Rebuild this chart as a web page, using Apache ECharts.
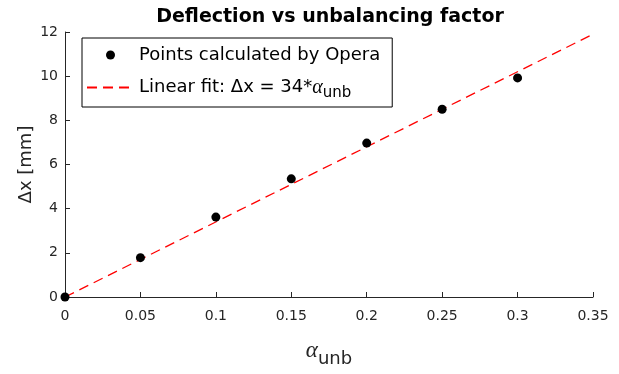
<!DOCTYPE html>
<html>
<head>
<meta charset="utf-8">
<script src="https://cdn.jsdelivr.net/npm/echarts@6/dist/echarts.min.js"></script>
<style>
  html, body { margin: 0; padding: 0; background: #fff; }
  #chart { width: 619px; height: 374px; }
</style>
</head>
<body>
<div id="chart"></div>
<script>
// points from Opera
const alphaVals = [0, 0.05, 0.1, 0.15, 0.2, 0.25, 0.3]
const deltaX = [0, 1.78, 3.62, 5.35, 6.97, 8.5, 9.92]
// linear fit dx = 34*alpha, end points
const fitX = [0, 0.35]
const fitY = [0, 11.9]

const font = 'DejaVu Sans, Liberation Sans, sans-serif'
const axisColor = '#262626'

const chart = echarts.init(document.getElementById('chart'))
chart.setOption({
  animation: false,
  title: {
    text: 'Deflection vs unbalancing factor',
    left: 325,
    textAlign: 'center',
    top: 3,
    textStyle: { fontFamily: font, fontSize: 19, fontWeight: 'bold', color: '#000' }
  },
  grid: { left: 65, right: 26, top: 32, bottom: 77 },
  legend: {
    left: 82,
    top: 38,
    orient: 'vertical',
    padding: [6, 12, 6, 4],
    itemGap: 8,
    itemWidth: 47,
    itemHeight: 9,
    borderColor: '#000',
    borderWidth: 1,
    borderRadius: 0,
    backgroundColor: '#fff',
    data: [
      { name: 'pts' },
      { name: 'fit', itemStyle: { color: 'rgba(0,0,0,0)', borderWidth: 0 } }
    ],
    formatter: function (name) {
      return name === 'pts' ? 'Points calculated by Opera' : 'Linear fit: Δx = 34*{a|α}{s|unb}'
    },
    textStyle: {
      fontFamily: font, fontSize: 18, color: '#000', lineHeight: 22,
      rich: {
        a: { fontFamily: 'Liberation Serif', fontStyle: 'italic', fontSize: 20, color: '#000', lineHeight: 22 },
        s: { fontFamily: font, fontSize: 15, color: '#000', lineHeight: 22, padding: [12, 0, 0, 0] }
      }
    }
  },
  xAxis: {
    type: 'value',
    min: 0,
    max: 0.35,
    interval: 0.05,
    name: '{a|α}{s|unb}',
    nameLocation: 'middle',
    nameGap: 37,
    nameTextStyle: {
      rich: {
        a: { fontFamily: 'Liberation Serif', fontStyle: 'italic', fontSize: 23, color: axisColor },
        s: { fontFamily: font, fontSize: 18, color: axisColor, padding: [16, 0, 0, 0] }
      }
    },
    axisLine: { lineStyle: { color: axisColor } },
    axisTick: { inside: true, length: 5, lineStyle: { color: axisColor } },
    splitLine: { show: false },
    axisLabel: {
      fontFamily: font, fontSize: 14, color: axisColor, margin: 12,
      formatter: v => String(+v.toFixed(2))
    }
  },
  yAxis: {
    type: 'value',
    min: 0,
    max: 12,
    interval: 2,
    name: 'Δx [mm]',
    nameLocation: 'middle',
    nameGap: 30,
    nameMoveOverlap: false,
    nameTextStyle: { fontFamily: font, fontSize: 18, color: axisColor },
    axisLine: { show: true, lineStyle: { color: axisColor } },
    axisTick: { show: true, inside: true, length: 5, lineStyle: { color: axisColor } },
    splitLine: { show: false },
    axisLabel: { fontFamily: font, fontSize: 14, color: axisColor, margin: 7 }
  },
  series: [
    {
      name: 'fit',
      type: 'line',
      data: fitX.map((x, i) => [x, fitY[i]]),
      symbol: 'none',
      z: 2,
      lineStyle: { color: '#ff0000', width: 1.3, type: [10, 6] },
      itemStyle: { color: '#ff0000' }
    },
    {
      name: 'pts',
      type: 'scatter',
      data: alphaVals.map((x, i) => [x, deltaX[i]]),
      symbol: 'circle',
      symbolSize: 9,
      z: 3,
      clip: false,
      itemStyle: { color: '#000', opacity: 1 }
    }
  ]
})
</script>
</body>
</html>
